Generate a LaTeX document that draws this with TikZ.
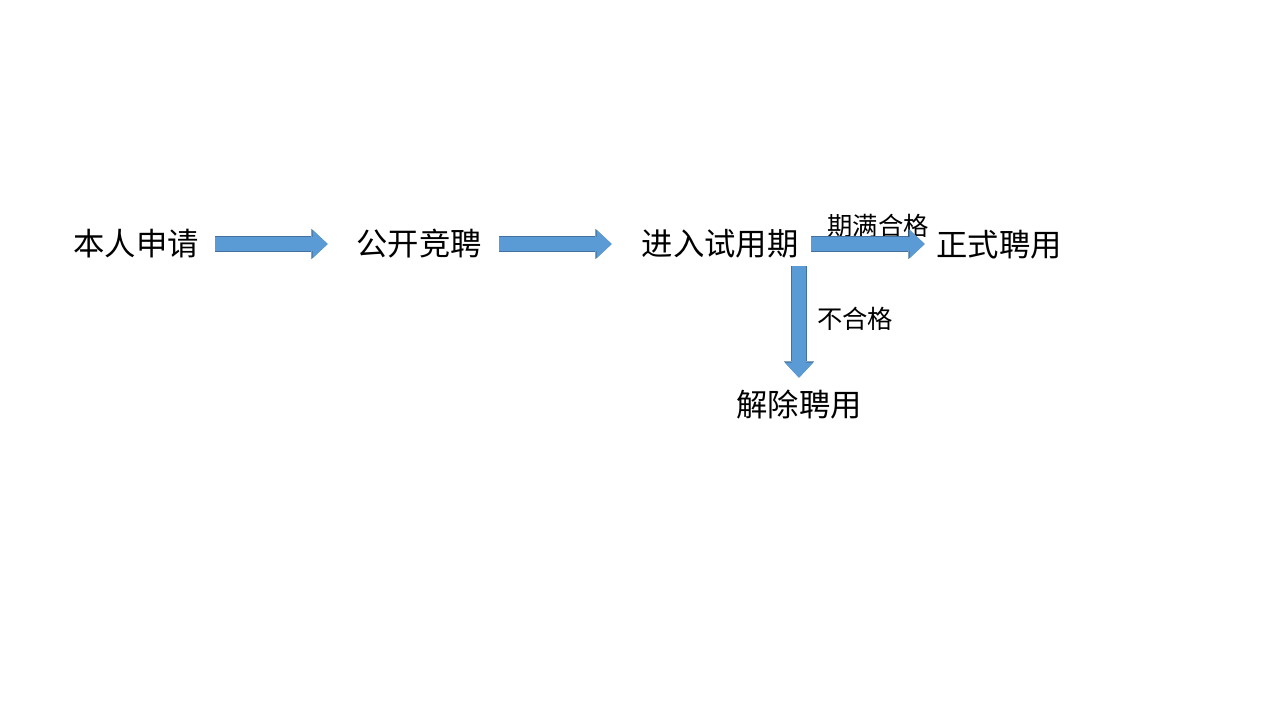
\documentclass[tikz,border=0pt]{standalone}
\usepackage{fontspec}
\setmainfont{Noto Sans CJK SC}
\usetikzlibrary{arrows.meta}
\definecolor{flowblue}{HTML}{5B9BD5}
\definecolor{edgeblue}{HTML}{41719C}
\tikzset{stage/.style = {inner sep = 0, text height = 20.7pt, text depth = 2.8pt,
    font = \fontsize{23.5}{28}\selectfont}}
\tikzset{note/.style = {inner sep = 0, font = \fontsize{19}{23}\selectfont}}
\tikzset{flow/.style = {draw = flowblue, line width = 10.5pt,
    -{Triangle[length = 11.25pt, width = 21pt, line width = 0pt]},
    preaction = {draw = edgeblue, line width = 11.6pt,
      -{Triangle[length = 12.2pt, width = 22.6pt, line width = 0pt]}}}}

\begin{document}
\begin{tikzpicture}[x = 0.75pt, y = -0.75pt]
      \useasboundingbox (0, 0) rectangle (1280, 720);
      \node [stage] (apply) at (136, 244) {本人申请};
      \node [stage] (compete) at (419, 244) {公开竞聘};
      \node [stage] (trial) at (720, 244) {进入试用期};
      \node [stage] (hire) at (999, 245) {正式聘用};
      \node [stage] (dismiss) at (799, 405) {解除聘用};
      \node [note] (pass) at (878, 226) {期满合格};
      \node [note] (fail) at (855, 319) {不合格};
      \draw [flow, shorten <= 12.25pt, shorten >= 21.25pt] (apply) -- (compete);
      \draw [flow, shorten <= 13pt, shorten >= 22.25pt] (compete) -- (trial);
      \draw [flow, shorten <= 9.5pt, shorten >= 8.5pt] (trial) -- (trial -| hire.west);
      \draw [flow, shorten <= 4.75pt, shorten >= 8.5pt] (dismiss.north |- trial.south) -- (dismiss.north);
    \end{tikzpicture}
\end{document}
